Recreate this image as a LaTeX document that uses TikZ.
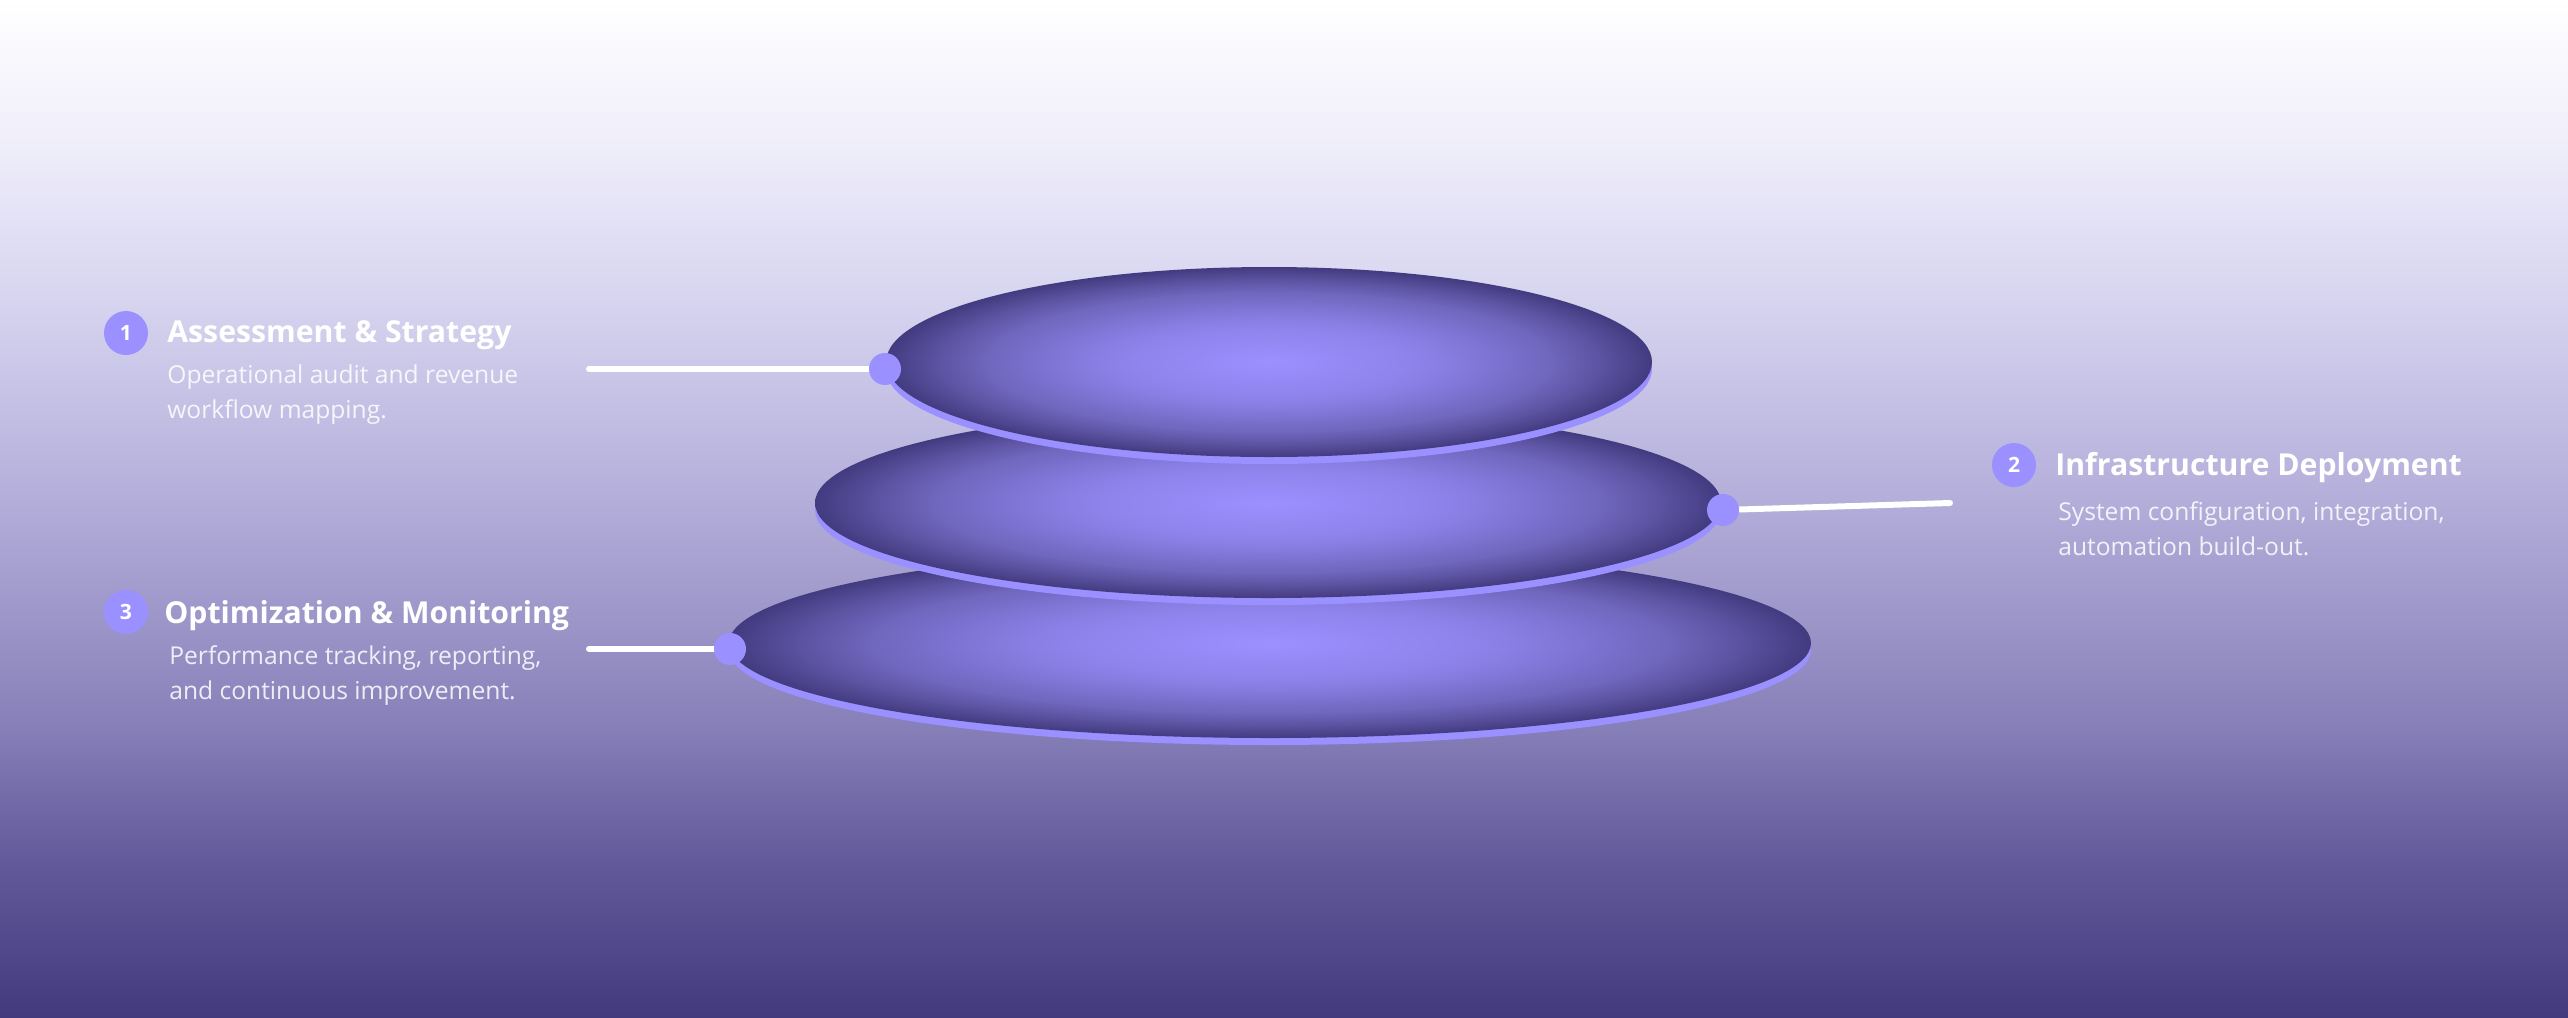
\documentclass[tikz,border=0pt]{standalone}
\usepackage{fontspec}
\setmainfont{Open Sans}
\usetikzlibrary{positioning}

\definecolor{bgA}{HTML}{423A7D}
\definecolor{bgB}{HTML}{62599A}
\definecolor{bgC}{HTML}{8A83BB}
\definecolor{bgD}{HTML}{B2ACD9}
\definecolor{bgE}{HTML}{D6D3EF}
\definecolor{bgF}{HTML}{EFEEFA}
\definecolor{stonelight}{HTML}{9B90FF}
\definecolor{stoneA}{HTML}{8E84EC}
\definecolor{stoneB}{HTML}{867CE0}
\definecolor{stoneC}{HTML}{6F66BD}
\definecolor{stoneD}{HTML}{5B52A0}
\definecolor{stonedark}{HTML}{433B80}
\definecolor{stonerim}{HTML}{9B90FF}

\pgfdeclareverticalshading{backdrop}{100bp}{color(0bp)=(bgA); color(25bp)=(bgA);
  color(32.5bp)=(bgB); color(40bp)=(bgC); color(50bp)=(bgD); color(60bp)=(bgE);
  color(68bp)=(bgF); color(75bp)=(white); color(100bp)=(white)}
\pgfdeclareradialshading{stone}{\pgfpoint{0bp}{0bp}}{color(0bp)=(stonelight);
  color(8.75bp)=(stoneA); color(12bp)=(stoneB); color(18.5bp)=(stoneC);
  color(21.75bp)=(stoneD); color(25bp)=(stonedark); color(50bp)=(stonedark)}

\begin{document}
\begin{tikzpicture}
  [x=0.2mm, y=-0.2mm,
   dot/.style={circle, fill=stonerim, minimum size=6.4mm, inner sep=0pt},
   badge/.style={circle, fill=stonerim, minimum size=8.8mm, inner sep=0pt,
     text=white, font=\bfseries\fontsize{12}{12}\selectfont},
   title/.style={anchor=base west, inner sep=0pt, text=white,
     font=\bfseries\fontsize{17.2}{20}\selectfont},
   desc/.style={anchor=north west, inner sep=0pt, align=left, text=white,
     text opacity=0.85, font=\fontsize{14}{19.9}\selectfont},
   link/.style={white, line width=3.4pt, line cap=round}]
  % backdrop
  \shade[shading=backdrop] (0,0) rectangle (2568,1017);
  \useasboundingbox (0,0) rectangle (2568,1017);
  % stones, bottom one first
  \foreach \cx/\cy/\rx in {1270/643/541, 1268/503/453, 1269/362/383} {
      \fill[stonerim] (\cx,\cy+7) ellipse [x radius=\rx, y radius=95];
      \shade[shading=stone] (\cx,\cy) ellipse [x radius=\rx, y radius=95];
  }
  % links
  \coordinate (p1) at (885,369);
  \coordinate (p2) at (1723,510);
  \coordinate (p3) at (730,649);
  \coordinate (e1) at (589,369);
  \coordinate (e2) at (1950,503);
  \coordinate (e3) at (589,649);
  \draw[link] (e1) -- (p1);
  \draw[link] (p2) -- (e2);
  \draw[link] (e3) -- (p3);
  \node[dot] (d1) at (p1) {};
  \node[dot] (d2) at (p2) {};
  \node[dot] (d3) at (p3) {};
  % step 1
  \node[badge] (b1) at (126,333) {1};
  \node[title] (t1) at (167,342) {Assessment \& Strategy};
  \node[desc] (s1) at (167,364) {Operational audit and revenue\\workflow mapping.};
  % step 2
  \node[badge] (b2) at (2014,465) {2};
  \node[title] (t2) at (2055,475) {Infrastructure Deployment};
  \node[desc] (s2) at (2058,501) {System configuration, integration,\\automation build-out.};
  % step 3
  \node[badge] (b3) at (126,612) {3};
  \node[title] (t3) at (164,623) {Optimization \& Monitoring};
  \node[desc] (s3) at (169,645) {Performance tracking, reporting,\\and continuous improvement.};
\end{tikzpicture}
\end{document}
